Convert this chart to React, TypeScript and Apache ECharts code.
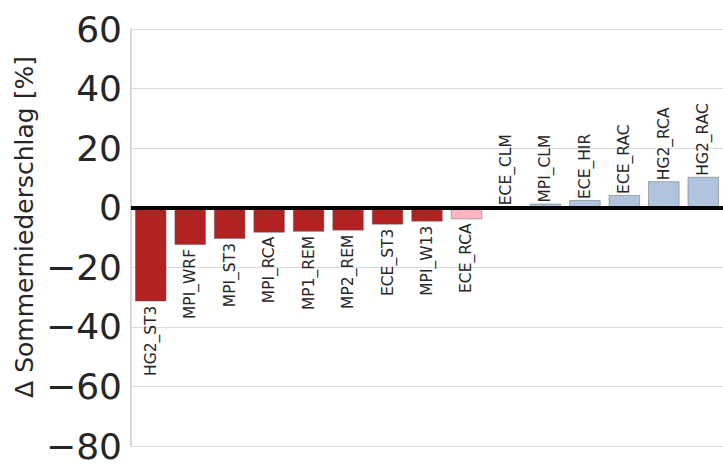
import React, { useEffect, useRef } from "react";
import * as echarts from "echarts";

const categories = [
  "HG2_ST3", "MPI_WRF", "MPI_ST3", "MPI_RCA", "MP1_REM", "MP2_REM", "ECE_ST3", "MPI_W13",
  "ECE_RCA", "ECE_CLM", "MPI_CLM", "ECE_HIR", "ECE_RAC", "HG2_RCA", "HG2_RAC",
];
const values = [-31.5, -12.5, -10.5, -8.4, -8.1, -7.7, -5.7, -4.7, -3.9, 0.5, 1.4, 2.6, 4.3, 8.9, 10.4];
const barColors = [
  "#b22222", "#b22222", "#b22222", "#b22222", "#b22222", "#b22222", "#b22222", "#b22222",
  "#ffb6c1", "#b0c4de", "#b0c4de", "#b0c4de", "#b0c4de", "#b0c4de", "#b0c4de",
];
const yTicks = { min: -80, max: 60, interval: 20 };
const yTitle = "Δ Sommerniederschlag [%]";

const FONT = "'DejaVu Sans', 'Liberation Sans', sans-serif";
const TXT = "#262626";

export default function App() {
  const ref = useRef<HTMLDivElement>(null);
  useEffect(() => {
    if (!ref.current) return;
    const chart = echarts.init(ref.current, undefined, { renderer: "svg" });
    chart.setOption({
      animation: false,
      backgroundColor: "#ffffff",
      textStyle: { fontFamily: FONT },
      grid: { left: 131, top: 29, width: 595, height: 423, containLabel: false },
      xAxis: {
        type: "category",
        data: categories,
        axisLabel: { show: false },
        axisTick: { show: false },
        axisLine: { show: false },
        splitLine: { show: false },
      },
      yAxis: {
        type: "value",
        min: yTicks.min,
        max: yTicks.max,
        interval: yTicks.interval,
        axisLine: { show: true, lineStyle: { color: "#d9d9d9", width: 2 } },
        axisTick: { show: false },
        splitLine: { show: true, lineStyle: { color: "#dcdcdc", width: 1.2 } },
        axisLabel: {
          fontSize: 36,
          color: TXT,
          fontFamily: FONT,
          margin: 9,
          formatter: (v: number) => (v < 0 ? "\u2212" + Math.abs(v) : String(v)),
        },
      },
      graphic: [
        {
          type: "text",
          x: 24,
          y: 227,
          rotation: Math.PI / 2,
          style: {
            text: yTitle,
            fontSize: 25,
            fontFamily: FONT,
            fill: TXT,
            align: "center",
            verticalAlign: "middle",
          },
        },
      ],
      series: [
        {
          type: "bar",
          barCategoryGap: "20%",
          data: values.map((v, i) => ({
            value: v,
            itemStyle: {
              color: barColors[i],
              borderColor: "rgba(90,90,90,0.45)",
              borderWidth: 1,
            },
            label: {
              show: true,
              formatter: categories[i],
              position: v < 0 ? "bottom" : "top",
              rotate: 90,
              align: v < 0 ? "right" : "left",
              verticalAlign: "middle",
              distance: v < 0 ? 4 : 1,
              fontSize: 15.5,
              color: TXT,
              fontFamily: FONT,
            },
          })),
          markLine: {
            silent: true,
            symbol: "none",
            label: { show: false },
            lineStyle: { color: "#000000", width: 4, type: "solid" },
            data: [{ yAxis: 0 }],
          },
        },
      ],
    });
    return () => chart.dispose();
  }, []);
  return (
    <div
      ref={ref}
      style={{ position: "fixed", left: 0, top: 0, width: 723, height: 464 }}
    />
  );
}
